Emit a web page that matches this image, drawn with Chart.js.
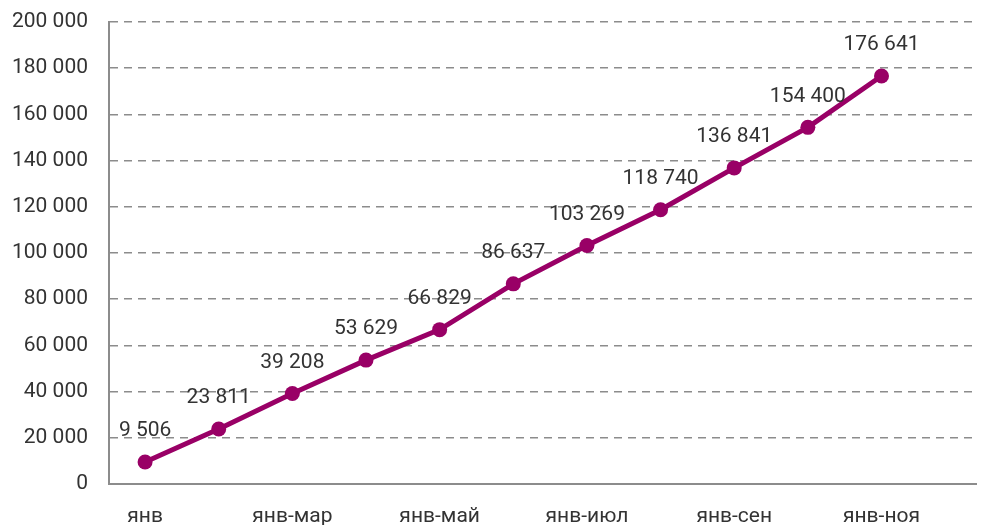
<!DOCTYPE html>
<html>
<head>
<meta charset="utf-8">
<script src="https://cdn.jsdelivr.net/npm/chart.js@4.4.1/dist/chart.umd.min.js"></script>
<style>
  html, body { margin: 0; padding: 0; background: #ffffff; }
  #wrap { width: 984px; height: 525px; position: relative; }
</style>
</head>
<body>
<div id="wrap"><canvas id="c" width="984" height="525"></canvas></div>
<script>
const categories = ['янв', 'янв-фев', 'янв-мар', 'янв-апр', 'янв-май', 'янв-июн', 'янв-июл', 'янв-авг', 'янв-сен', 'янв-окт', 'янв-ноя'];
const values = [9506, 23811, 39208, 53629, 66829, 86637, 103269, 118740, 136841, 154400, 176641];
const shownTickIndexes = [0, 2, 4, 6, 8, 10];
const yTicks = [0, 20000, 40000, 60000, 80000, 100000, 120000, 140000, 160000, 180000, 200000];

const FONT = 'Roboto, "Open Sans", sans-serif';
const TEXT = '#333333';
const LINE = '#990066';

function fmt(v) {
  return String(Math.round(v)).replace(/\B(?=(\d{3})+(?!\d))/g, ' ');
}

const labelPlugin = {
  id: 'valueLabels',
  afterDatasetsDraw(chart) {
    const ctx = chart.ctx;
    const meta = chart.getDatasetMeta(0);
    ctx.save();
    ctx.font = '21px ' + FONT;
    ctx.fillStyle = TEXT;
    ctx.textAlign = 'center';
    ctx.textBaseline = 'middle';
    meta.data.forEach((pt, i) => {
      ctx.fillText(fmt(values[i]), pt.x, pt.y - 31);
    });
    ctx.restore();
  }
};

new Chart(document.getElementById('c'), {
  type: 'line',
  data: {
    datasets: [{
      data: values.map((v, i) => ({ x: i, y: v })),
      borderColor: LINE,
      backgroundColor: LINE,
      borderWidth: 5,
      pointRadius: 7.5,
      pointBorderWidth: 0,
      pointBackgroundColor: LINE,
      tension: 0,
      fill: false
    }]
  },
  options: {
    responsive: false,
    animation: false,
    devicePixelRatio: 1,
    layout: { padding: { top: 22, right: 6, left: 0, bottom: 0 } },
    plugins: { legend: { display: false }, tooltip: { enabled: false } },
    scales: {
      x: {
        type: 'linear',
        min: -0.49,
        max: 11.29,
        afterBuildTicks(scale) {
          scale.ticks = shownTickIndexes.map(v => ({ value: v }));
        },
        afterFit(scale) { scale.height = 41; scale.paddingLeft = 0; scale.paddingRight = 0; },
        grid: { display: false, drawTicks: false },
        border: { display: true, color: '#8c8c8c', width: 2 },
        ticks: {
          autoSkip: false,
          maxRotation: 0,
          padding: 20,
          color: TEXT,
          font: { family: FONT, size: 21 },
          callback: (v) => categories[v] ?? ''
        }
      },
      y: {
        min: 0,
        max: 200000,
        afterBuildTicks(scale) {
          scale.ticks = yTicks.map(v => ({ value: v }));
        },
        afterFit(scale) { scale.width = 109; scale.paddingTop = 0; scale.paddingBottom = 0; },
        grid: { color: '#8c8c8c', lineWidth: 1.5, drawTicks: false },
        border: { display: true, color: '#8c8c8c', width: 2, dash: [8, 6] },
        ticks: {
          padding: 21,
          color: TEXT,
          font: { family: FONT, size: 21 },
          callback: (v) => fmt(v)
        }
      }
    }
  },
  plugins: [labelPlugin]
});
</script>
</body>
</html>
